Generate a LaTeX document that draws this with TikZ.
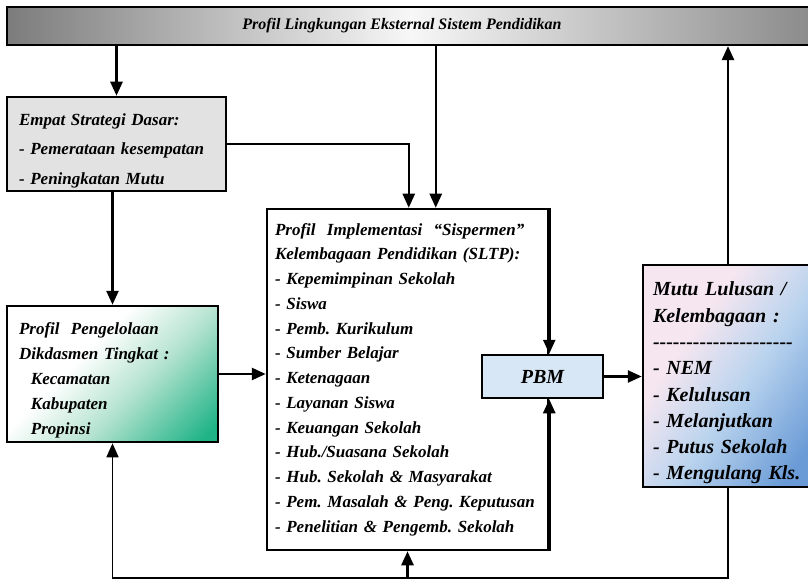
\documentclass[tikz,border=0pt]{standalone}
\usepackage{fontspec}
\setmainfont{Liberation Serif}[Ligatures=TeXOff]
\usetikzlibrary{arrows.meta,calc}
\definecolor{barL}{HTML}{7C7C7C}
\definecolor{barM}{HTML}{F7F7F7}
\definecolor{barR}{HTML}{8A8A8A}
\definecolor{boxgray}{HTML}{E2E2E2}
\definecolor{pbmblue}{HTML}{D8E7F5}
\definecolor{gfull}{HTML}{1FB386}
\definecolor{gmint}{HTML}{B5E3D0}
\definecolor{mpink}{HTML}{F5E6F0}
\definecolor{mlblue}{HTML}{B9D3EE}
\definecolor{mblue}{HTML}{6A9BD6}
\pgfdeclareverticalshading{greenfade}{100bp}{color(0bp)=(gfull); color(18bp)=(gfull); color(42bp)=(gmint); color(60bp)=(white); color(100bp)=(white)}
\pgfdeclarehorizontalshading{mutufade}{100bp}{color(0bp)=(mpink); color(36bp)=(mpink); color(55bp)=(mlblue); color(78bp)=(mblue); color(100bp)=(mblue)}
\begin{document}
\frenchspacing
\begin{tikzpicture}[x=1pt,y=-1pt,
  txt/.style={font=\fontsize{17}{#1}\selectfont\bfseries\itshape},
  frame/.style={draw=black, line width=2.5pt, align=left, inner ysep=0pt},
  arr/.style={line width=2.5pt, -{Triangle[length=14pt,width=12pt]}},
  thinarr/.style={line width=1.5pt, -{Triangle[length=14pt,width=12pt]}}]
\useasboundingbox (0,0) rectangle (808,580);
\clip (0,0) rectangle (808,580);
% top bar
\node[draw=black, line width=2.2pt, left color=barL, right color=barR, middle color=barM,
  minimum width=808pt, minimum height=38pt, inner sep=0pt,
  font=\fontsize{16}{18}\selectfont\bfseries\itshape] (bar) at (411,26)
  {Profil Lingkungan Eksternal Sistem Pendidikan\hspace*{18pt}};
% box 1
\node[frame, fill=boxgray, txt=29.5, minimum width=219pt, minimum height=94pt,
  inner xsep=12pt, text width=195pt] (b1) at (116.5,144)
  {\rule{0pt}{25pt}Empat Strategi Dasar:\\- Pemerataan kesempatan\\- Peningkatan Mutu};
% box 2
\node[frame, fill=white, txt=24.75, minimum width=281pt, minimum height=341pt,
  inner xsep=8pt, text width=265pt] (b2) at (407.5,379.5)
  {Profil\ \ Implementasi\ \ “Sispermen”\\
   Kelembagaan Pendidikan (SLTP):\\
   - Kepemimpinan Sekolah\\
   - Siswa\\
   - Pemb. Kurikulum\\
   - Sumber Belajar\\
   - Ketenagaan\\
   - Layanan Siswa\\
   - Keuangan Sekolah\\
   - Hub./Suasana Sekolah\\
   - Hub. Sekolah \& Masyarakat\\
   - Pem. Masalah \& Peng. Keputusan\\
   - Penelitian \& Pengemb. Sekolah};
% box 3
\node[frame, shading=greenfade, shading angle=45, txt=25, minimum width=211pt, minimum height=136pt,
  inner xsep=12pt, text width=187pt] (b3) at (112.5,374)
  {\rule{0pt}{25pt}Profil\ \ Pengelolaan\\Dikdasmen Tingkat :\\
   \hspace*{12pt}Kecamatan\\\hspace*{12pt}Kabupaten\\\hspace*{12pt}Propinsi};
% PBM
\node[draw=black, line width=2.5pt, fill=pbmblue, minimum width=121pt, minimum height=43pt,
  inner sep=0pt, font=\fontsize{20}{22}\selectfont\bfseries\itshape] (pbm) at (542.5,376.5) {PBM};
% Mutu lulusan
\node[frame, shading=mutufade, shading angle=-35,
  font=\fontsize{20}{26.3}\selectfont\bfseries\itshape,
  minimum width=170pt, minimum height=222pt, inner xsep=10pt, text width=150pt] (mutu) at (728,376)
  {\rule{0pt}{28pt}Mutu Lulusan /\\Kelembagaan :\\---------------------\\- NEM\\- Kelulusan\\- Melanjutkan\\- Putus Sekolah\\- Mengulang Kls.};
% connectors
\coordinate (in1) at ($(b2.north west)+(143,0)$);
\coordinate (in2) at ($(b2.north west)+(170,0)$);
\coordinate (bl) at (0,578);
\draw[arr] (bar.south -| b1.north) -- (b1.north);
\draw[arr] (b1.east) -| (in1);
\draw[arr] (bar.south -| in2) -- (in2);
\draw[arr] (b1.south -| b3.north) -- (b3.north);
\draw[arr] (b3.east) -- (b3.east -| b2.west);
\draw[arr] (b2.north east) -- (b2.east |- pbm.north);
\draw[arr] (b2.south east) -- (b2.east |- pbm.south);
\draw[arr] (pbm.east) -- (pbm.east -| mutu.west);
\draw[arr] (mutu.north) -- (mutu.north |- bar.south);
\draw[thinarr] (mutu.south) |- (bl -| b3.south) -- (b3.south);
\draw[arr] (bl -| b2.south) -- (b2.south);
\end{tikzpicture}
\end{document}
